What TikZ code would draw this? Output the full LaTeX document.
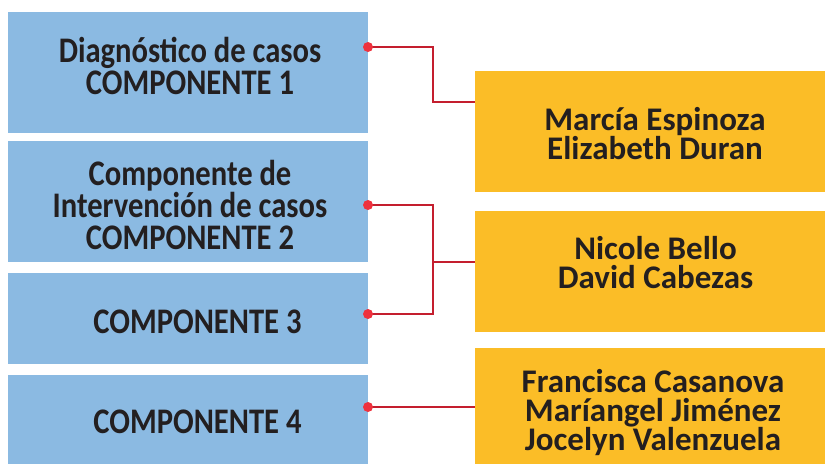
\documentclass[tikz,border=0pt]{standalone}
\usepackage{fontspec}
\setmainfont{Carlito}
\newfontfamily\narrowfont[FakeStretch=0.85]{Carlito}
\definecolor{boxblue}{RGB}{139,186,226}
\definecolor{boxyellow}{RGB}{251,189,39}
\definecolor{linered}{RGB}{196,30,46}
\definecolor{dotred}{RGB}{238,50,62}
\definecolor{txt}{RGB}{35,31,32}
\tikzset{
  bluebox/.style={fill=boxblue, draw=none, rectangle, anchor=north west, inner sep=0pt, outer sep=0pt, minimum width=360pt},
  yellowbox/.style={fill=boxyellow, draw=none, rectangle, anchor=north west, inner sep=0pt, outer sep=0pt, minimum width=350pt},
  ltext/.style={text=txt, align=center, inner sep=0pt, font=\narrowfont\bfseries\fontsize{36}{32}\selectfont},
  rtext/.style={text=txt, align=center, inner sep=0pt, font=\bfseries\fontsize{33}{29}\selectfont},
  conn/.style={draw=linered, line width=2.2pt},
  dotmark/.style={fill=dotred}
}
\begin{document}
\begin{tikzpicture}[x=1pt, y=-1pt]
\useasboundingbox (0,0) rectangle (825,464);
% left boxes
\node[bluebox, minimum height=121pt] (b1) at (8,12) {};
\node[bluebox, minimum height=121pt] (b2) at (8,141) {};
\node[bluebox, minimum height=91pt] (b3) at (8,273) {};
\node[bluebox, minimum height=89pt] (b4) at (8,375) {};
% right boxes
\node[yellowbox, minimum height=121pt] (y1) at (475,71) {};
\node[yellowbox, minimum height=121pt] (y2) at (475,211) {};
\node[yellowbox, minimum height=116pt] (y3) at (475,348) {};
% texts
\node[ltext] (t1) at (190,66) {Diagnóstico de casos\\COMPONENTE 1};
\node[ltext] (t2) at (190,205) {Componente de\\Intervención de casos\\COMPONENTE 2};
\node[ltext] (t3) at (197.5,321.5) {COMPONENTE 3};
\node[ltext] (t4) at (197.5,422) {COMPONENTE 4};
\node[rtext] (s1) at (655,134) {Marcía Espinoza\\Elizabeth Duran};
\node[rtext] (s2) at (655.5,263) {Nicole Bello\\David Cabezas};
\node[rtext] (s3) at (653,413) {Francisca Casanova\\Maríangel Jiménez\\Jocelyn Valenzuela};
% connector points
\coordinate (p1) at (b1.east |- 0,47);
\coordinate (p2) at (b2.east |- 0,205);
\coordinate (p3) at (b3.east |- 0,314);
\coordinate (p4) at (b4.east |- 0,407);
\coordinate (q1) at (y1.west |- 0,102);
\coordinate (q2) at (y2.west |- 0,262);
\coordinate (q3) at (y3.west |- 0,407);
\coordinate (j1) at (433,47);
\coordinate (j2) at (433,205);
\coordinate (j3) at (433,314);
\coordinate (jm) at (433,262);
% connectors
\draw[conn] (p1) -- (j1) |- (q1);
\draw[conn] (p2) -- (j2) -- (j3) -- (p3);
\draw[conn] (jm) -- (q2);
\draw[conn] (p4) -- (q3);
\foreach \p in {p1,p2,p3,p4} \fill[dotmark] (\p) circle[radius=5pt];
\end{tikzpicture}
\end{document}
